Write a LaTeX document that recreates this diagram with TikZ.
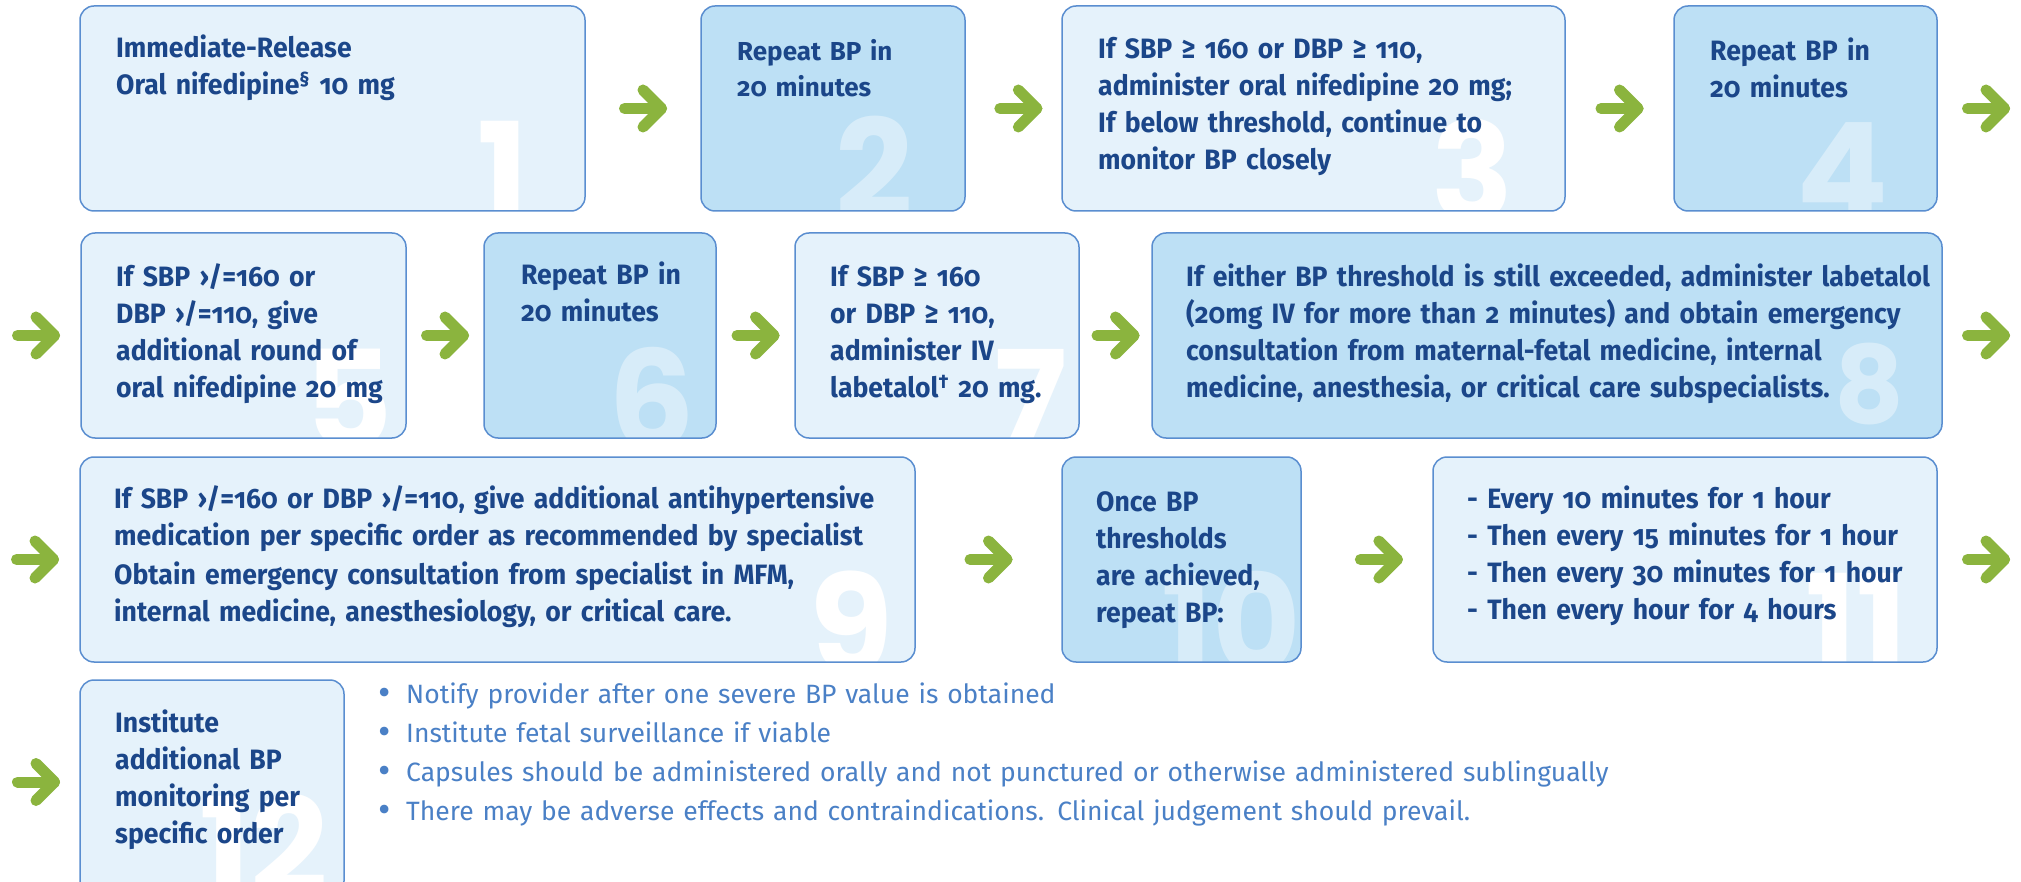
\documentclass[tikz,border=0pt]{standalone}
\usepackage{fontspec}
\setmainfont{Fira Sans}
\newfontfamily\condfont[FakeStretch=0.95,Numbers=OldStyle]{Fira Sans}
\newfontfamily\plainfont[Numbers=OldStyle]{Fira Sans}
\newfontfamily\numfont{Poppins}
\definecolor{lightfill}{HTML}{E5F2FB}
\definecolor{darkfill}{HTML}{BDE0F5}
\definecolor{edge}{HTML}{5A8ED0}
\definecolor{navy}{HTML}{1B4689}
\definecolor{leaf}{HTML}{8BB43E}
\definecolor{note}{HTML}{4A80C6}
\newcommand\putnum[5]{%
  \begin{scope}
    \clip[rounded corners=14pt] (#1.south west) rectangle (#1.north east);
    \node[bignum,#5] (n#1) at ([xshift=-#3pt,yshift=-#4pt]#1.north east) {#2};
  \end{scope}}
\newcommand\notebullet{\leavevmode\llap{\raisebox{-2.5pt}{\fontsize{38}{39}\selectfont •}\hspace{15pt}}}
\begin{document}
\begin{tikzpicture}[x=1pt,y=-1pt,
  boxbase/.style={rectangle, rounded corners=14pt, minimum height=205pt, inner sep=0pt, outer sep=0pt},
  litebox/.style={boxbase, fill=lightfill},
  deepbox/.style={boxbase, fill=darkfill},
  rim/.style={draw=edge, line width=1.5pt, rounded corners=14pt},
  boxtext/.style={anchor=base west, inner sep=0pt, text width=#1, align=left, text=navy,
     font=\condfont\bfseries\fontsize{28}{37}\selectfont},
  widetext/.style={boxtext=#1, font=\plainfont\bfseries\fontsize{26}{36}\selectfont},
  bignum/.style={anchor=base east, inner sep=0pt, font=\numfont\bfseries\fontsize{136}{136}\selectfont},
  smallnum/.style={font=\numfont\bfseries\fontsize{108}{108}\selectfont},
  onlite/.style={text=white},
  ondeep/.style={text=white, text opacity=0.4},
  garrow/.style={draw=leaf, line width=11pt, line cap=round, line join=round},
  gar/.pic={\draw[garrow] (-18.5,0) -- (18.5,0);
            \draw[garrow] (0,-18.5) -- (18.5,0) -- (0,18.5);},
  notes/.style={anchor=base west, inner sep=0pt, text width=1500pt, align=left, text=note,
     font=\plainfont\fontsize{26.5}{39}\selectfont}
]
\clip (0,0) rectangle (2021,882);
\fill[white] (0,0) rectangle (2021,882);

% boxes
\node[litebox, minimum width=505pt] (b1) at (332.5,108.5) {};
\node[deepbox, minimum width=264pt] (b2) at (833,108.5) {};
\node[litebox, minimum width=503pt] (b3) at (1313.5,108.5) {};
\node[deepbox, minimum width=263pt] (b4) at (1805.5,108.5) {};
\node[litebox, minimum width=325pt] (b5) at (243.5,335.5) {};
\node[deepbox, minimum width=232pt] (b6) at (600,335.5) {};
\node[litebox, minimum width=284pt] (b7) at (937,335.5) {};
\node[deepbox, minimum width=790pt] (b8) at (1547,335.5) {};
\node[litebox, minimum width=835pt] (b9) at (497.5,559.5) {};
\node[deepbox, minimum width=239pt] (b10) at (1181.5,559.5) {};
\node[litebox, minimum width=504pt] (b11) at (1685,559.5) {};
\node[litebox, minimum width=264pt, minimum height=215pt] (b12) at (212,787.5) {};

% big step numbers
\putnum{b1}{1}{56}{215}{onlite}
\putnum{b2}{2}{52}{212}{ondeep}
\putnum{b3}{3}{51}{215}{onlite}
\putnum{b4}{4}{48}{215}{ondeep}
\putnum{b5}{5}{13}{215}{onlite}
\putnum{b6}{6}{21}{215}{ondeep}
\putnum{b7}{7}{12}{215}{onlite}
\putnum{b8}{8}{37}{190}{ondeep,smallnum}
\putnum{b9}{9}{22}{215}{onlite}
\putnum{b10}{10}{0}{215}{ondeep}
\putnum{b11}{11}{29}{215}{onlite}
\putnum{b12}{12}{16}{215}{onlite}

% borders
\foreach \b in {b1,b2,b3,b4,b5,b6,b7,b8,b9,b10,b11,b12}
  \draw[rim] (\b.south west) rectangle (\b.north east);

% texts
\node[boxtext=460pt] (t1) at ([xshift=36pt,yshift=-52pt]b1.north west)
  {Immediate-Release\\Oral nifedipine\textsuperscript{§} 10 mg};
\node[widetext=220pt] (t2) at ([xshift=36pt,yshift=-55pt]b2.north west)
  {Repeat BP in\\20 minutes};
\node[boxtext=460pt] (t3) at ([xshift=36pt,yshift=-53pt]b3.north west)
  {If SBP ≥ 160 or DBP ≥ 110,\\administer oral nifedipine 20 mg;\\If below threshold, continue to\\monitor BP closely};
\node[boxtext=220pt] (t4) at ([xshift=36pt,yshift=-55pt]b4.north west)
  {Repeat BP in\\20 minutes};
\node[boxtext=290pt] (t5) at ([xshift=35pt,yshift=-54pt]b5.north west)
  {If SBP ›/=160 or\\DBP ›/=110, give\\additional round of\\oral nifedipine 20 mg};
\node[boxtext=200pt] (t6) at ([xshift=37pt,yshift=-52pt]b6.north west)
  {Repeat BP in\\20 minutes};
\node[boxtext=250pt] (t7) at ([xshift=35pt,yshift=-54pt]b7.north west)
  {If SBP ≥ 160\\or DBP ≥ 110,\\administer IV\\labetalol\textsuperscript{†} 20 mg.};
\node[boxtext=750pt] (t8) at ([xshift=34pt,yshift=-54pt]b8.north west)
  {If either BP threshold is still exceeded, administer labetalol\\(20mg IV for more than 2 minutes) and obtain emergency\\consultation from maternal-fetal medicine, internal\\medicine, anesthesia, or critical care subspecialists.};
\node[boxtext=790pt] (t9) at ([xshift=34pt,yshift=-51pt]b9.north west)
  {If SBP ›/=160 or DBP ›/=110, give additional antihypertensive\\medication per specific order as recommended by specialist\\[2pt]Obtain emergency consultation from specialist in MFM,\\internal medicine, anesthesiology, or critical care.};
\node[boxtext=200pt] (t10) at ([xshift=34pt,yshift=-54pt]b10.north west)
  {Once BP\\thresholds\\are achieved,\\repeat BP:};
\node[boxtext=460pt] (t11) at ([xshift=34pt,yshift=-51pt]b11.north west)
  {- Every 10 minutes for 1 hour\\- Then every 15 minutes for 1 hour\\- Then every 30 minutes for 1 hour\\- Then every hour for 4 hours};
\node[boxtext=230pt] (t12) at ([xshift=35pt,yshift=-52pt]b12.north west)
  {Institute\\additional BP\\monitoring per\\specific order};

% notes
\node[notes] (notes) at ([xshift=62pt,yshift=-23pt]b12.north east)
  {\notebullet Notify provider after one severe BP value is obtained\\
   \notebullet Institute fetal surveillance if viable\\
   \notebullet Capsules should be administered orally and not punctured or otherwise administered sublingually\\
   \notebullet There may be adverse effects and contraindications. Clinical judgement should prevail.};

% arrows between steps
\path (b1.east) -- coordinate[pos=0.5] (a12) (b2.west);
\path (b2.east) -- coordinate[pos=0.55] (a23) (b3.west);
\path (b3.east) -- coordinate[pos=0.5] (a34) (b4.west);
\coordinate (a4r) at ([xshift=49pt]b4.east);
\coordinate (a5l) at ([xshift=-45pt]b5.west);
\path (b5.east) -- coordinate[pos=0.5] (a56) (b6.west);
\path (b6.east) -- coordinate[pos=0.5] (a67) (b7.west);
\path (b7.east) -- coordinate[pos=0.5] (a78) (b8.west);
\coordinate (a8r) at ([xshift=44pt]b8.east);
\coordinate (a9l) at ([xshift=-45pt]b9.west);
\path (b9.east) -- coordinate[pos=0.5] (a910) (b10.west);
\path (b10.east) -- coordinate[pos=0.59] (a1011) (b11.west);
\coordinate (a11r) at ([xshift=49pt]b11.east);
\coordinate (a12l) at ([xshift=-44pt,yshift=-102pt]b12.north west);
\foreach \c in {a12,a23,a34,a4r,a5l,a56,a67,a78,a8r,a9l,a910,a1011,a11r,a12l}
  \pic at (\c) {gar};
\end{tikzpicture}
\end{document}
